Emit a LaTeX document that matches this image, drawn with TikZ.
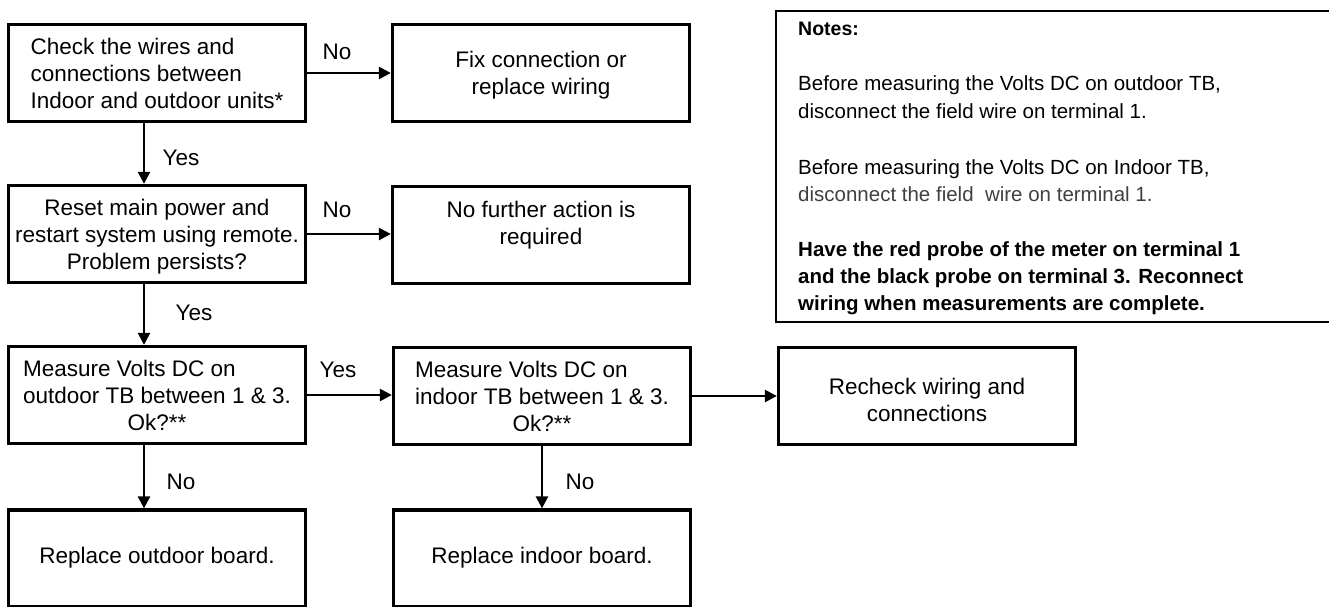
\documentclass[tikz,border=0pt]{standalone}
\usepackage{fontspec}
\setmainfont{Liberation Sans}
\usetikzlibrary{arrows.meta}
\newcommand\bxfont{\fontsize{22.5}{27}\selectfont}
\newcommand\ntfont{\fontsize{20.5}{27.5}\selectfont}
\newcommand\lowr[1]{\raisebox{-3pt}[\height][\depth]{#1}}
\begin{document}
\begin{tikzpicture}[x=1pt,y=-1pt,
  box/.style={draw, line width=3.3pt, minimum width=297pt, minimum height=97pt, inner sep=0pt, font=\bxfont},
  arr/.style={line width=2.5pt, -{Triangle[length=12pt,width=12pt]}},
  lbl/.style={font=\bxfont, inner sep=0pt},
  ntxt/.style={font=\ntfont, anchor=base west, inner sep=0pt}]
\useasboundingbox (0,0) rectangle (1329,606);
\clip (0,0) rectangle (1329,606);
% boxes
\node[box] (A) at (157,73) {\lowr{\begin{tabular}{@{}l@{}}Check the wires and\\connections between\\Indoor and outdoor units*\end{tabular}}};
\node[box] (B) at (541,73) {\lowr{\begin{tabular}{@{}c@{}}Fix connection or\\replace wiring\end{tabular}}};
\node[box] (C) at (157,234) {\lowr{\begin{tabular}{@{}c@{}}Reset main power and\\restart system using remote.\\Problem persists?\end{tabular}}};
\node[box] (D) at (541,235) {\begin{tabular}{@{}c@{}}No further action is\\required\\[-8pt]\mbox{}\end{tabular}};
\node[box] (E) at (157,395) {\lowr{\begin{tabular}{@{}l@{}}Measure Volts DC on\\outdoor TB between 1 \& 3.\\\multicolumn{1}{@{}c@{}}{Ok?**}\end{tabular}}};
\node[box] (F) at (542,396) {\lowr{\begin{tabular}{@{}l@{}}Measure Volts DC on\\indoor TB between 1 \& 3.\\\multicolumn{1}{@{}c@{}}{Ok?**}\end{tabular}}};
\node[box] (G) at (927,396) {\begin{tabular}{@{}c@{}}\mbox{}\\[-13pt]Recheck wiring and\\connections\end{tabular}};
\node[box] (H) at (157,558.5) {\begin{tabular}{@{}c@{}}Replace outdoor board.\end{tabular}};
\node[box] (I) at (542,558.5) {\begin{tabular}{@{}c@{}}Replace indoor board.\end{tabular}};
% connectors
\draw[arr] (A.east) -- (B.west);
\draw[arr] ([xshift=-13pt]A.south) -- ([xshift=-13pt]C.north);
\draw[arr] (C.east) -- (C.east -| D.west);
\draw[arr] ([xshift=-13pt]C.south) -- ([xshift=-13pt]E.north);
\draw[arr] (E.east) -- (E.east -| F.west);
\draw[arr] (F.east) -- (F.east -| G.west);
\draw[arr] ([xshift=-13pt]E.south) -- ([xshift=-13pt]H.north);
\draw[arr] (F.south) -- (I.north);
% labels
\node[lbl] (l1) at (337,52) {No};
\node[lbl] (l2) at (181,158) {Yes};
\node[lbl] (l3) at (337,210) {No};
\node[lbl] (l4) at (194,313) {Yes};
\node[lbl] (l5) at (338,370) {Yes};
\node[lbl] (l6) at (181,482) {No};
\node[lbl] (l7) at (580,482) {No};
% notes
\node[draw, line width=2.3pt, anchor=north west, minimum width=600pt, minimum height=311pt, inner sep=0pt] (notes) at (775,10) {};
\node[ntxt, font=\fontsize{19.5}{24}\selectfont\bfseries] (n0) at (798,35) {Notes:};
\node[ntxt] (n1) at (798,90) {Before measuring the Volts DC on outdoor TB,};
\node[ntxt] (n2) at (798,118) {disconnect the field wire on terminal 1.};
\node[ntxt] (n3) at (798,174) {Before measuring the Volts DC on Indoor TB,};
\node[ntxt, text=black!75] (n4) at (798,201) {disconnect the field\ \ wire on terminal 1.};
\node[ntxt, font=\ntfont\bfseries] (n5) at (798,256) {Have the red probe of the meter on terminal 1};
\node[ntxt, font=\ntfont\bfseries] (n6) at (798,283) {and the black probe on terminal 3. Reconnect};
\node[ntxt, font=\ntfont\bfseries] (n7) at (798,310) {wiring when measurements are complete.};
\end{tikzpicture}
\end{document}
